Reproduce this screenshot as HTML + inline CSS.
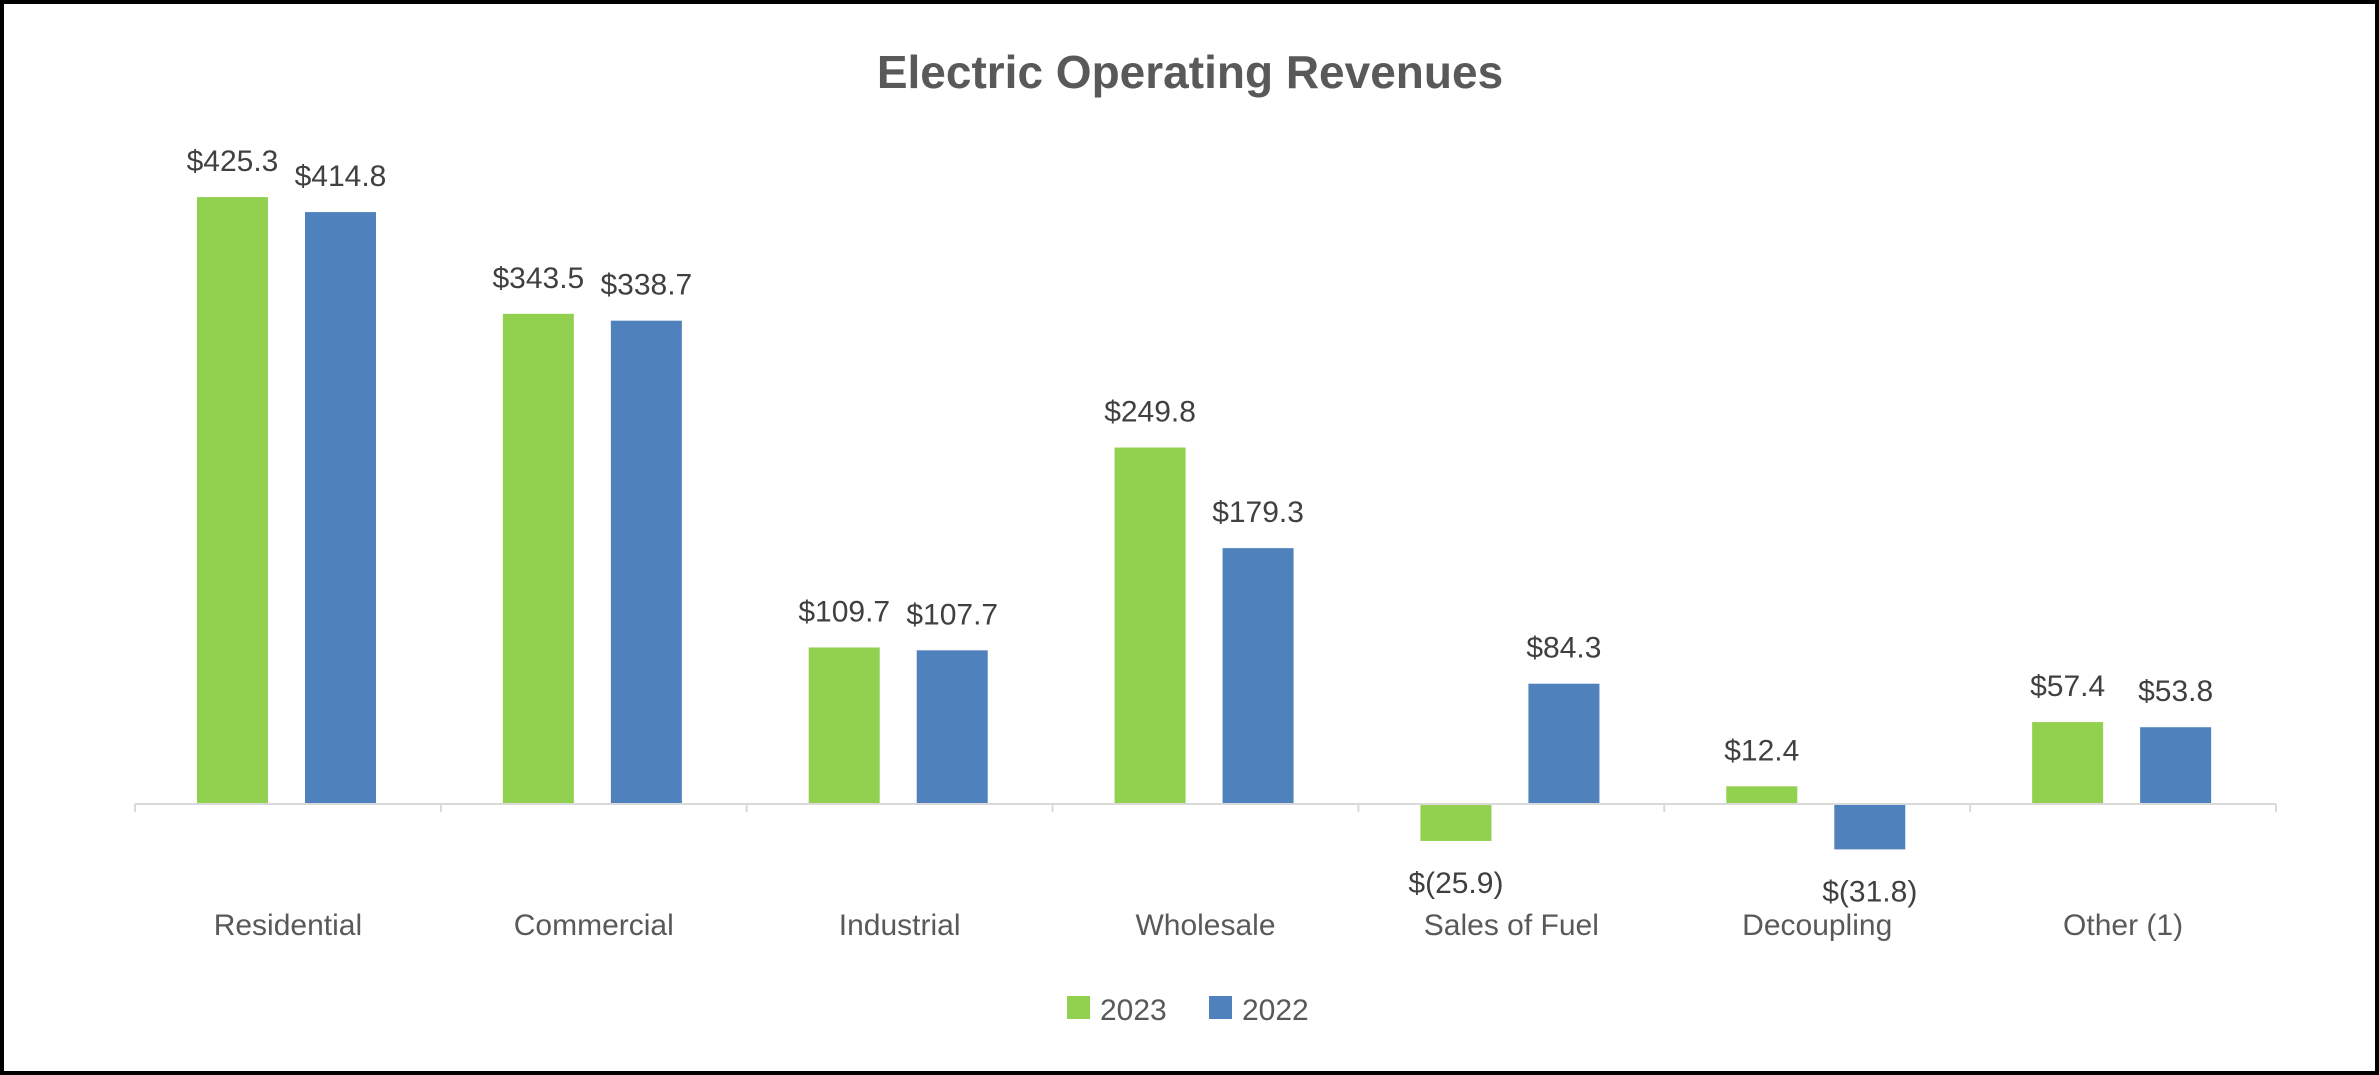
<!DOCTYPE html>
<html><head><meta charset="utf-8"><style>
html,body{margin:0;padding:0;background:#fff}
svg{display:block}
text{font-family:"Liberation Sans",Calibri,sans-serif}
</style></head><body>
<svg id="chart" width="2379" height="1075" viewBox="0 0 2379 1075">
<rect x="2" y="2" width="2375" height="1071" fill="#fff" stroke="#000" stroke-width="4"/>
<text x="1190" y="88" text-anchor="middle" font-size="46" font-weight="bold" fill="#595959">Electric Operating Revenues</text>
<g id="bars"></g>
<g id="legend">
<rect x="1067" y="996" width="23" height="23" fill="#92D050"/>
<text x="1100" y="1020" font-size="30" fill="#595959">2023</text>
<rect x="1209" y="996" width="23" height="23" fill="#4F81BD"/>
<text x="1242" y="1020" font-size="30" fill="#595959">2022</text>
</g>
</svg>
<script>
const categories=["Residential","Commercial","Industrial","Wholesale","Sales of Fuel","Decoupling","Other (1)"];
const values2023=[425.3,343.5,109.7,249.8,-25.9,12.4,57.4];
const values2022=[414.8,338.7,107.7,179.3,84.3,-31.8,53.8];
const labels2023=["$425.3","$343.5","$109.7","$249.8","$(25.9)","$12.4","$57.4"];
const labels2022=["$414.8","$338.7","$107.7","$179.3","$84.3","$(31.8)","$53.8"];
const NS="http://www.w3.org/2000/svg";
const g=document.getElementById('bars');
const x0=135,x1=2276,base=804,k=1.427;
const cw=(x1-x0)/categories.length;
const bw=71;
function y(v){return base-v*k;}
function mk(t,a){const e=document.createElementNS(NS,t);for(const p in a)e.setAttribute(p,a[p]);g.appendChild(e);return e;}
function bar(i,v,lab,off,color,series){
  const bx=x0+i*cw+off;
  const r=mk('rect',{x:bx,y:Math.min(y(v),base),width:bw,height:Math.abs(v)*k,fill:color});
  
  
  const ty=v>=0?y(v)-26:y(v)+52;
  const t=mk('text',{x:bx+bw/2,y:ty,'text-anchor':'middle','font-size':30,fill:'#404040'});
  t.textContent=lab;
  
  
}
categories.forEach((c,i)=>{
  bar(i,values2023[i],labels2023[i],62,'#92D050','2023');
  bar(i,values2022[i],labels2022[i],170,'#4F81BD','2022');
  const t=mk('text',{x:x0+i*cw+cw/2,y:935,'text-anchor':'middle','font-size':30,fill:'#595959'});
  t.textContent=c;
  
  
});
const ax=mk('line',{x1:x0,x2:x1,y1:base,y2:base,stroke:'#D9D9D9','stroke-width':2});


for(let i=0;i<=categories.length;i++){
  const tk=mk('line',{x1:x0+i*cw,x2:x0+i*cw,y1:base,y2:base+8,stroke:'#D9D9D9','stroke-width':2});
  
  
}
</script>
</body></html>
